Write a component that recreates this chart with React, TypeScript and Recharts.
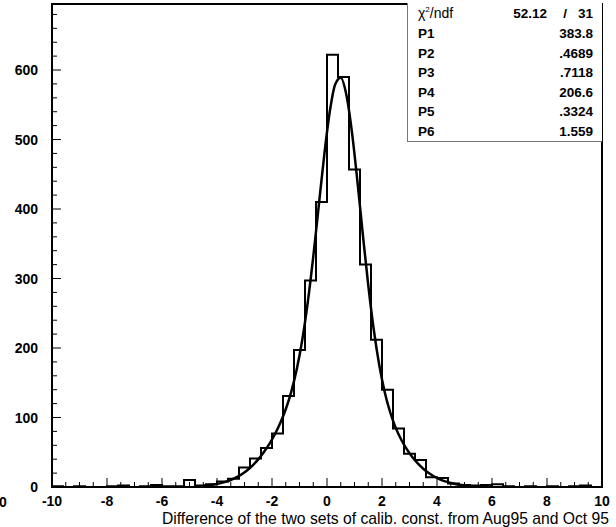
import { LineChart, Line, XAxis, YAxis, ReferenceArea } from 'recharts';

// histogram: 50 bins of 0.4 from -10 to 10
const BIN_START = -10;
const BIN_WIDTH = 0.4;
const binCounts = [
  1, 0, 1, 0, 0, 1, 2, 0, 1, 3,
  1, 1, 10, 2, 4, 8, 12, 28, 41, 56,
  77, 131, 197, 297, 410, 622, 590, 457, 320, 212,
  140, 84, 48, 39, 14, 13, 5, 3, 2, 3,
  4, 1, 0, 1, 0, 1, 0, 1, 2, 0,
];

// fitted curve
const fitX = [
  -4.5, -4.3, -4.1, -3.9, -3.7, -3.5, -3.3, -3.1, -2.9, -2.7,
  -2.5, -2.3, -2.1, -1.9, -1.7, -1.5, -1.3, -1.1, -0.9, -0.7,
  -0.5, -0.3, -0.1, 0.1, 0.3, 0.5, 0.7, 0.9, 1.1, 1.3,
  1.5, 1.7, 1.9, 2.1, 2.3, 2.5, 2.7, 2.9, 3.1, 3.3,
  3.5, 3.7, 3.9, 4.1, 4.3, 4.5, 4.7, 4.9, 5.1,
];
const fitY = [
  1.7, 2.5, 3.6, 5.2, 7.3, 10.1, 13.7, 18.3, 24.1, 31.2,
  39.7, 49.9, 61.7, 75.6, 92.0, 111.9, 136.9, 169.3, 211.5, 265.6,
  331.1, 404.4, 477.7, 539.9, 579.7, 588.8, 565.0, 512.8, 442.1, 364.5,
  290.5, 226.6, 175.5, 136.4, 107.2, 85.1, 68.0, 54.4, 43.2, 33.9,
  26.3, 20.1, 15.1, 11.1, 8.1, 5.8, 4.1, 2.8, 1.9,
];

const xMajor = [-10, -8, -6, -4, -2, 0, 2, 4, 6, 8, 10];
const yMajor = [0, 100, 200, 300, 400, 500, 600];

const statLabels = ['P1', 'P2', 'P3', 'P4', 'P5', 'P6'];
const statValues = ['383.8', '.4689', '.7118', '206.6', '.3324', '1.559'];

const X_MIN = -10;
const X_MAX = 10;
const Y_MAX = 695;
const FONT = '"Liberation Sans", Arial, Helvetica, sans-serif';

const histData = binCounts.map((c, i) => ({ x: +(BIN_START + i * BIN_WIDTH).toFixed(2), n: c }));
histData.push({ x: X_MAX, n: binCounts[binCounts.length - 1] });
const fitData = fitX.map((x, i) => ({ x, f: fitY[i] }));

const xTicks: number[] = [];
for (let v = X_MIN; v <= X_MAX + 1e-9; v += 0.5) xTicks.push(+v.toFixed(1));
const yTicks: number[] = [];
for (let v = 0; v <= 680; v += 20) yTicks.push(v);

function XTick(props: any) {
  const { x, y, payload } = props;
  const v = payload.value;
  const major = xMajor.includes(v);
  return (
    <g>
      <line x1={x} x2={x} y1={y} y2={y - (major ? 9 : 5)} stroke="#000" strokeWidth={1} />
      {major && (
        <text x={x} y={y + 19} textAnchor="middle" fontSize={14} fontWeight="bold" fontFamily={FONT} fill="#000">
          {v}
        </text>
      )}
    </g>
  );
}

function YTick(props: any) {
  const { x, y, payload } = props;
  const v = payload.value;
  const major = yMajor.includes(v);
  return (
    <g>
      <line x1={x} x2={x + (major ? 9 : 5)} y1={y} y2={y} stroke="#000" strokeWidth={1} />
      {major && (
        <text x={x - 14} y={y + 5} textAnchor="end" fontSize={14} fontWeight="bold" fontFamily={FONT} fill="#000">
          {v}
        </text>
      )}
    </g>
  );
}

export default function App() {
  return (
    <div style={{ position: 'absolute', left: 0, top: 0, width: 616, height: 527, background: '#fff', fontFamily: FONT }}>
      <LineChart width={616} height={527} data={histData} margin={{ top: 4, right: 14, bottom: 0, left: 0 }}>
        <XAxis
          dataKey="x"
          type="number"
          domain={[X_MIN, X_MAX]}
          ticks={xTicks}
          interval={0}
          tickSize={0}
          tickMargin={0}
          axisLine={false}
          tick={<XTick />}
          height={40}
          allowDataOverflow
        />
        <YAxis
          type="number"
          domain={[0, Y_MAX]}
          ticks={yTicks}
          interval={0}
          tickSize={0}
          tickMargin={0}
          axisLine={false}
          tick={<YTick />}
          width={52}
          allowDataOverflow
        />
        <ReferenceArea x1={X_MIN} x2={X_MAX} y1={0} y2={Y_MAX} fill="none" stroke="#000" strokeWidth={2} />
        <Line
          dataKey="n"
          type="stepAfter"
          stroke="#000"
          strokeWidth={2}
          dot={false}
          isAnimationActive={false}
        />
        <Line
          data={fitData}
          dataKey="f"
          type="monotone"
          stroke="#000"
          strokeWidth={2.5}
          dot={false}
          isAnimationActive={false}
        />
      </LineChart>

      {/* stats box */}
      <div
        style={{
          position: 'absolute',
          left: 407,
          top: 3,
          width: 195,
          height: 139,
          border: '1px solid #777',
          borderTop: 'none',
          borderRight: 'none',
          background: '#fff',
          boxSizing: 'border-box',
          fontSize: 13.5,
          color: '#000',
        }}
      >
        <div style={{ position: 'absolute', left: 10, top: 2, fontSize: 14, fontWeight: 300 }}>
          χ<sup style={{ fontSize: 8 }}>2</sup>/ndf
        </div>
        <div style={{ position: 'absolute', right: 55, top: 3, fontWeight: 'bold' }}>52.12</div>
        <div style={{ position: 'absolute', right: 35, top: 3, fontWeight: 'bold' }}>/</div>
        <div style={{ position: 'absolute', right: 9, top: 3, fontWeight: 'bold' }}>31</div>
        {statLabels.map((l, i) => (
          <div key={l}>
            <div style={{ position: 'absolute', left: 10, top: 23 + i * 19.6, fontWeight: 'bold' }}>{l}</div>
            <div style={{ position: 'absolute', right: 9, top: 23 + i * 19.6, fontWeight: 'bold' }}>{statValues[i]}</div>
          </div>
        ))}
      </div>

      <div style={{ position: 'absolute', left: -1, top: 494, fontSize: 14, lineHeight: '16px', fontWeight: 'bold' }}>0</div>
      <div
        style={{
          position: 'absolute',
          right: 7,
          top: 511,
          fontSize: 15.7,
          lineHeight: '16px',
          whiteSpace: 'nowrap',
        }}
      >
        Difference of the two sets of calib. const. from Aug95 and Oct 95
      </div>
    </div>
  );
}
